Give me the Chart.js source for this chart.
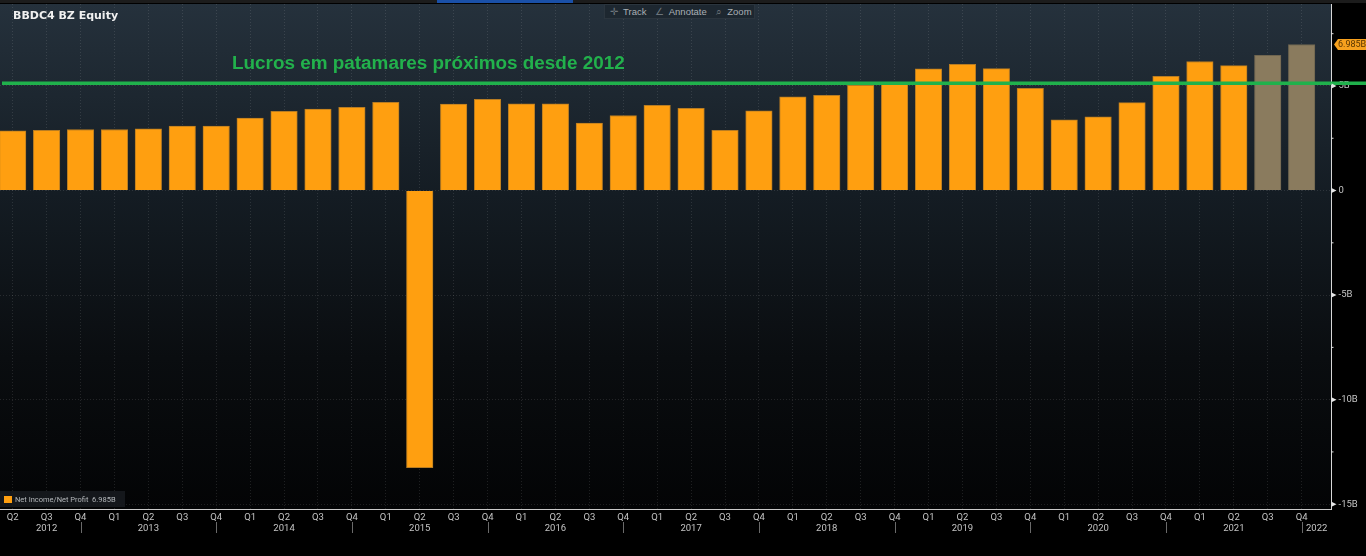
<!DOCTYPE html>
<html>
<head>
<meta charset="utf-8">
<title>BBDC4 BZ Equity</title>
<script src="https://cdn.jsdelivr.net/npm/chart.js@4/dist/chart.umd.min.js"></script>
<style>
    html, body { margin: 0; padding: 0; background: #000; overflow: hidden; }
    #wrap { position: relative; width: 1366px; height: 556px; }
    #topStrip { position: absolute; left: 0; top: 0; width: 1366px; height: 3px; background: #1c1c1c; }
    #topBlue { position: absolute; left: 437px; top: 0; width: 136px; height: 3px; background: #1a50a8; }
    #toolbar {
        position: absolute; left: 604px; top: 4px; width: 151px; height: 15px;
        background: #1d2730; border: 1px solid #2b353e; box-sizing: border-box;
        font: 9.5px "Liberation Sans", sans-serif; color: #aab0b5; line-height: 14px; white-space: nowrap;
    }
    #toolbar span { position: absolute; top: 0; }
    #toolbar i { font-style: normal; color: #6c757c; }
</style>
</head>
<body>
<div id="wrap">
    <canvas id="chart" width="1366" height="556"></canvas>
    <div id="topStrip"><div id="topBlue"></div></div>
    <div id="toolbar">
        <span style="left:5px"><i>✛</i>&nbsp; Track</span>
        <span style="left:50px"><i>∠</i>&nbsp; Annotate</span>
        <span style="left:111px"><i>⌕</i>&nbsp; Zoom</span>
    </div>
</div>
<script>
// Quarters, from Q2 2012 to Q4 2021
const quarters = ['Q2','Q3','Q4',
    'Q1','Q2','Q3','Q4', 'Q1','Q2','Q3','Q4', 'Q1','Q2','Q3','Q4',
    'Q1','Q2','Q3','Q4', 'Q1','Q2','Q3','Q4', 'Q1','Q2','Q3','Q4',
    'Q1','Q2','Q3','Q4', 'Q1','Q2','Q3','Q4', 'Q1','Q2','Q3','Q4'];
const yearLabels = ['','2012','',
    '','2013','','', '','2014','','', '','2015','','',
    '','2016','','', '','2017','','', '','2018','','',
    '','2019','','', '','2020','','', '','2021','',''];
const lastYearLabel = '2022';

// Net income in billions
const netIncome = [2.85, 2.88, 2.92,
    2.92, 2.95, 3.08, 3.08, 3.46, 3.79, 3.89, 3.98,
    4.22, -13.25, 4.13, 4.36, 4.14, 4.14, 3.23, 3.59,
    4.07, 3.93, 2.88, 3.81, 4.48, 4.55, 5.03, 5.10,
    5.82, 6.03, 5.83, 4.89, 3.38, 3.52, 4.20, 5.46,
    6.17, 5.97, 6.47, 6.985];
const estimated = [false, false, false,
    false, false, false, false, false, false, false, false,
    false, false, false, false, false, false, false, false,
    false, false, false, false, false, false, false, false,
    false, false, false, false, false, false, false, false,
    false, false, true, true];

const yTicks = [-15, -12.5, -10, -7.5, -5, -2.5, 0, 2.5, 5, 7.5];
const seriesName = 'Net Income/Net Profit';
const lastValueLabel = '6.985B';
const chartTitle = 'BBDC4 BZ Equity';
const noteText = 'Lucros em patamares próximos desde 2012';
const noteLevel = 5.13;

const TICK_FONT = '"Roboto", "Liberation Sans", sans-serif';

const bloombergLook = {
    id: 'bloombergLook',
    beforeDraw(chart) {
        const { ctx, chartArea: a } = chart;
        const g = ctx.createLinearGradient(0, a.top, 0, a.bottom);
        g.addColorStop(0, '#25313c');
        g.addColorStop(0.38, '#141c23');
        g.addColorStop(0.7, '#0a0d10');
        g.addColorStop(1, '#030405');
        ctx.save();
        ctx.fillStyle = g;
        ctx.fillRect(a.left, a.top, a.right - a.left, a.bottom - a.top);
        ctx.restore();
    },
    afterDraw(chart) {
        const { ctx, chartArea: a, scales: { x, y } } = chart;
        ctx.save();

        // green level line, runs past the axis to the window edge
        const lineY = y.getPixelForValue(noteLevel);
        ctx.strokeStyle = '#20b14c';
        ctx.lineWidth = 3.5;
        ctx.beginPath();
        ctx.moveTo(2, lineY);
        ctx.lineTo(1366, lineY);
        ctx.stroke();

        ctx.fillStyle = '#22b14c';
        ctx.font = 'bold 18.9px "Liberation Sans", sans-serif';
        ctx.textBaseline = 'middle';
        ctx.textAlign = 'left';
        ctx.fillText(noteText, 232, 63.5);

        ctx.fillStyle = '#f0f0f0';
        ctx.font = 'bold 11px "DejaVu Sans", sans-serif';
        ctx.fillText(chartTitle, 13, 16);

        // legend box
        ctx.fillStyle = 'rgba(22, 26, 30, 0.9)';
        ctx.fillRect(0, 491, 125, 16);
        ctx.fillStyle = '#ff9f10';
        ctx.fillRect(4, 496, 8, 7);
        ctx.fillStyle = '#b4b8bb';
        ctx.font = '7.5px ' + TICK_FONT;
        ctx.fillText(seriesName + '  ' + lastValueLabel, 15, 500.5);

        // year labels and the separators under each Q4
        ctx.fillStyle = '#c4c4c4';
        ctx.font = '9.5px ' + TICK_FONT;
        ctx.textAlign = 'center';
        yearLabels.forEach((label, i) => {
            if (label) ctx.fillText(label, x.getPixelForValue(i), 528.5);
        });
        ctx.fillText(lastYearLabel, x.getPixelForValue(quarters.length - 1) + 15, 528.5);
        ctx.strokeStyle = '#6a6a6a';
        ctx.lineWidth = 1;
        quarters.forEach((q, i) => {
            if (q !== 'Q4') return;
            const px = Math.round(x.getPixelForValue(i)) + 0.5;
            ctx.beginPath();
            ctx.moveTo(px, 522);
            ctx.lineTo(px, 533);
            ctx.stroke();
        });

        // axis markers on the right
        ctx.fillStyle = '#e6e6e6';
        yTicks.forEach(v => {
            const py = y.getPixelForValue(v);
            ctx.beginPath();
            if (v % 5 === 0) {
                ctx.moveTo(a.right, py - 2.5);
                ctx.lineTo(a.right + 5, py);
                ctx.lineTo(a.right, py + 2.5);
            } else {
                ctx.rect(a.right, py - 0.5, 2, 1);
            }
            ctx.fill();
        });

        // last value tag
        const tagY = y.getPixelForValue(netIncome[netIncome.length - 1]);
        ctx.fillStyle = '#f7a11e';
        ctx.beginPath();
        ctx.moveTo(1334, tagY);
        ctx.lineTo(1338, tagY - 5.5);
        ctx.lineTo(1366, tagY - 5.5);
        ctx.lineTo(1366, tagY + 5.5);
        ctx.lineTo(1338, tagY + 5.5);
        ctx.closePath();
        ctx.fill();
        ctx.fillStyle = '#5a3600';
        ctx.font = '9px ' + TICK_FONT;
        ctx.textAlign = 'left';
        ctx.fillText(lastValueLabel, 1338, tagY + 0.5);

        ctx.restore();
    }
};

new Chart(document.getElementById('chart').getContext('2d'), {
    type: 'bar',
    data: {
        datasets: [{
            label: seriesName,
            data: netIncome.map((v, i) => ({ x: i, y: v })),
            backgroundColor: estimated.map(e => e ? '#8a7b5e' : '#ff9f10'),
            borderColor: estimated.map(e => e ? '#6f6550' : '#b87c22'),
            borderWidth: 1,
            barThickness: 26.5
        }]
    },
    options: {
        responsive: false,
        animation: false,
        layout: { padding: { top: 4, left: 0, right: 0, bottom: 0 } },
        plugins: { legend: { display: false }, title: { display: false }, tooltip: { enabled: false } },
        scales: {
            x: {
                type: 'linear',
                offset: false,
                min: -0.374,
                max: 38.88,
                afterBuildTicks: s => { s.ticks = quarters.map((q, i) => ({ value: i })); },
                afterFit: s => { s.height = 47; s.paddingLeft = 0; s.paddingRight = 0; },
                ticks: {
                    autoSkip: false,
                    maxRotation: 0,
                    padding: 3,
                    color: '#c4c4c4',
                    font: { family: TICK_FONT, size: 9.5 },
                    callback: (v) => quarters[v]
                },
                grid: { offset: false, color: 'rgba(255,255,255,0.11)', drawTicks: false },
                border: { color: '#c8c8c8', width: 1, dash: [1, 2] }
            },
            y: {
                position: 'right',
                min: -15.23,
                max: 8.92,
                afterBuildTicks: s => { s.ticks = yTicks.map(v => ({ value: v })); },
                afterFit: s => { s.width = 34.5; s.paddingTop = 0; s.paddingBottom = 0; },
                ticks: {
                    padding: 7,
                    color: '#c4c4c4',
                    font: { family: TICK_FONT, size: 9.5 },
                    callback: v => v % 5 === 0 ? (v === 0 ? '0' : v + 'B') : ''
                },
                grid: {
                    color: c => c.tick && c.tick.value % 5 === 0 ? 'rgba(255,255,255,0.11)' : 'transparent',
                    drawTicks: false
                },
                border: { color: '#d8d8d8', width: 1, dash: [1, 2] }
            }
        }
    },
    plugins: [bloombergLook]
});
</script>
</body>
</html>
